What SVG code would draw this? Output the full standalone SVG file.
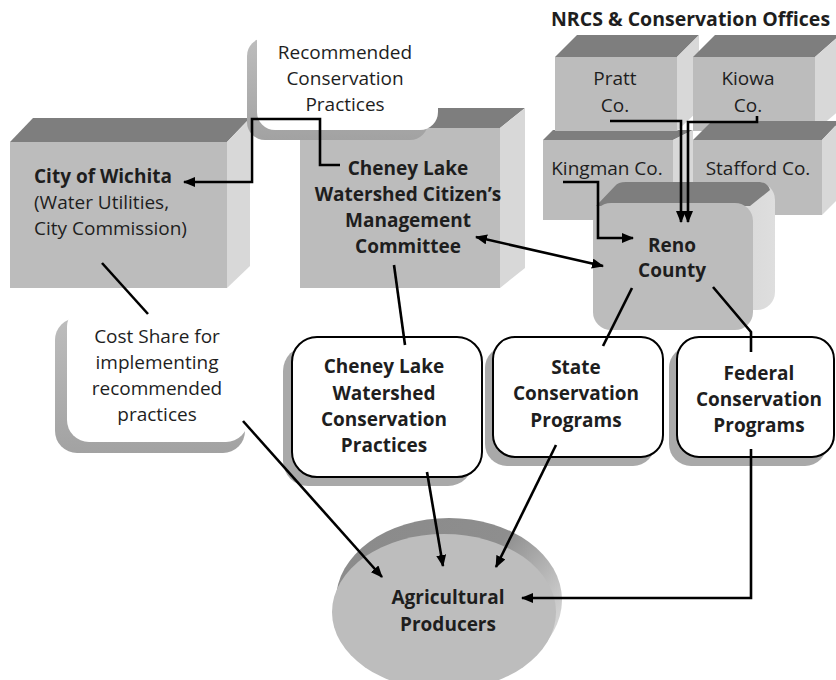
<svg xmlns="http://www.w3.org/2000/svg" width="836" height="680" viewBox="0 0 836 680">
  <style>
    text { font-family: "Open Sans", "Noto Sans", "Liberation Sans", sans-serif; font-size: 19px; fill: #1e1e1e; }
    .b { font-weight: bold; }
    .c { text-anchor: middle; }
    .front { fill: #bcbcbc; }
    .top { fill: #7e7e7e; }
    .side { fill: #d8d8d8; }
    .shadow { fill: #a9a9a9; }
    .card { fill: #ffffff; }
    .prog { fill: #ffffff; stroke: #000; stroke-width: 2; }
    .link { fill: none; stroke: #000; stroke-width: 2.6; }
    .arr { marker-end: url(#arrow); }
    .arr2 { marker-start: url(#arrow); marker-end: url(#arrow); }
  </style>
  <defs>
    <marker id="arrow" viewBox="0 0 12 10" refX="11" refY="5" markerWidth="12" markerHeight="10" markerUnits="userSpaceOnUse" orient="auto-start-reverse">
      <path d="M0,0 L12,5 L0,10 Z" fill="#000"/>
    </marker>
    <linearGradient id="rim" x1="0" y1="0" x2="1" y2="0.6">
      <stop offset="0" stop-color="#8a8a8a"/>
      <stop offset="0.6" stop-color="#8e8e8e"/>
      <stop offset="1" stop-color="#d4d4d4"/>
    </linearGradient>
    <linearGradient id="shade" x1="0" y1="0" x2="0" y2="1">
      <stop offset="0" stop-color="#bdbdbd"/>
      <stop offset="1" stop-color="#a2a2a2"/>
    </linearGradient>
    <linearGradient id="renoSide" x1="0" y1="0" x2="1" y2="0">
      <stop offset="0" stop-color="#c4c4c4"/>
      <stop offset="1" stop-color="#dedede"/>
    </linearGradient>
  </defs>

  <!-- City of Wichita -->
  <g id="city-of-wichita">
    <polygon class="top" points="10,142 33,118 250,118 227,142"/>
    <polygon class="side" points="227,142 250,118 250,266 227,288"/>
    <rect class="front" x="10" y="142" width="217" height="146"/>
    <text x="34" y="183" class="b">City of Wichita</text>
    <text x="34" y="209">(Water Utilities,</text>
    <text x="34" y="235">City Commission)</text>
  </g>

  <!-- Citizen's Management Committee -->
  <g id="management-committee">
    <polygon class="top" points="300,128 325,108 525,108 500,128"/>
    <polygon class="side" points="500,128 525,108 525,268 500,288"/>
    <rect class="front" x="300" y="128" width="200" height="160"/>
    <text x="408" y="175" class="b c">Cheney Lake</text>
    <text x="408" y="201" class="b c">Watershed Citizen’s</text>
    <text x="408" y="227" class="b c">Management</text>
    <text x="408" y="253" class="b c">Committee</text>
  </g>

  <!-- Recommended Conservation Practices -->
  <g id="recommended-practices">
    <rect x="247" y="38" width="181" height="102" rx="18" fill="url(#shade)"/>
    <rect class="card" x="257" y="18" width="181" height="112" rx="18"/>
    <text x="345" y="59" class="c">Recommended</text>
    <text x="345" y="85" class="c">Conservation</text>
    <text x="345" y="111" class="c">Practices</text>
  </g>

  <!-- NRCS & Conservation Offices -->
  <g id="nrcs-offices">
    <text x="551" y="26" class="b" style="font-size:19.5px">NRCS &amp; Conservation Offices</text>
  </g>

  <g id="kingman-co">
    <polygon class="top" points="543,140 553,130 693,130 673,140"/>
    <polygon class="side" points="673,140 693,130 693,210 673,220"/>
    <rect class="front" x="543" y="140" width="130" height="80"/>
    <text x="607" y="175" class="c">Kingman Co.</text>
  </g>

  <g id="pratt-co">
    <polygon class="top" points="555,57 577,35 699,35 677,57"/>
    <polygon class="side" points="677,57 699,35 699,110 677,131"/>
    <rect class="front" x="555" y="57" width="122" height="74"/>
    <text x="615" y="85" class="c">Pratt</text>
    <text x="615" y="112" class="c">Co.</text>
  </g>

  <g id="kiowa-co">
    <polygon class="top" points="693,57 715,35 840,35 815,57"/>
    <polygon class="side" points="815,57 840,35 840,110 815,131"/>
    <rect class="front" x="693" y="57" width="122" height="74"/>
    <text x="748" y="85" class="c">Kiowa</text>
    <text x="748" y="112" class="c">Co.</text>
  </g>

  <g id="stafford-co">
    <polygon class="top" points="693,140 712,121 840,121 822,140"/>
    <polygon class="side" points="822,140 840,121 840,197 822,215"/>
    <rect class="front" x="693" y="140" width="129" height="75"/>
    <text x="758" y="175" class="c">Stafford Co.</text>
  </g>

  <!-- Reno County -->
  <g id="reno-county">
    <rect x="613" y="182" width="162" height="128" rx="18" fill="url(#renoSide)"/>
    <path d="M596,206 L615,186 Q618,182 626,182 L760,182 Q768,183 770,190 L750,206 Z" class="top"/>
    <rect class="front" x="593" y="203" width="160" height="127" rx="18"/>
    <text x="672" y="252" class="b c">Reno</text>
    <text x="672" y="277" class="b c">County</text>
  </g>

  <!-- Cost Share -->
  <g id="cost-share">
    <rect x="55" y="318" width="190" height="135" rx="22" fill="url(#shade)"/>
    <rect class="card" x="67" y="305" width="181" height="137" rx="22"/>
    <text x="157" y="343" class="c">Cost Share for</text>
    <text x="157" y="369" class="c">implementing</text>
    <text x="157" y="395" class="c">recommended</text>
    <text x="157" y="421" class="c">practices</text>
  </g>

  <!-- Conservation practices and programs -->
  <g id="watershed-practices">
    <rect class="shadow" x="283" y="346" width="190" height="140" rx="25"/>
    <rect class="prog" x="292" y="337" width="190" height="140" rx="25"/>
    <text x="384" y="373" class="b c">Cheney Lake</text>
    <text x="384" y="400" class="b c">Watershed</text>
    <text x="384" y="426" class="b c">Conservation</text>
    <text x="384" y="452" class="b c">Practices</text>
  </g>

  <g id="state-programs">
    <rect class="shadow" x="485" y="346" width="170" height="120" rx="22"/>
    <rect class="prog" x="493" y="337" width="170" height="120" rx="22"/>
    <text x="576" y="374" class="b c">State</text>
    <text x="576" y="400" class="b c">Conservation</text>
    <text x="576" y="427" class="b c">Programs</text>
  </g>

  <g id="federal-programs">
    <rect class="shadow" x="669" y="346" width="158" height="120" rx="22"/>
    <rect class="prog" x="677" y="337" width="157" height="120" rx="22"/>
    <text x="759" y="380" class="b c">Federal</text>
    <text x="759" y="406" class="b c">Conservation</text>
    <text x="759" y="432" class="b c">Programs</text>
  </g>

  <!-- Agricultural Producers -->
  <g id="agricultural-producers">
    <ellipse cx="449" cy="600" rx="113" ry="82" fill="url(#rim)"/>
    <ellipse cx="444" cy="612" rx="112" ry="78" fill="#bdbdbd"/>
    <text x="448" y="604" class="b c">Agricultural</text>
    <text x="448" y="631" class="b c">Producers</text>
  </g>

  <!-- Connectors -->
  <g id="connectors">
    <path class="link arr" d="M340,165 H320 V119 H252 V182 H184"/>
    <path class="link" d="M102,263 L148,314"/>
    <path class="link arr" d="M243,421 L382,577"/>
    <path class="link" d="M394,265 L405,345"/>
    <path class="link arr" d="M427,472 L443,566"/>
    <path class="link arr" d="M556,445 L496,567"/>
    <path class="link arr" d="M751,449 V598 H522"/>
    <path class="link" d="M632,288 L603,346"/>
    <path class="link" d="M713,287 L751,332 V352"/>
    <path class="link arr2" d="M476,237 L603,266"/>
    <path class="link arr" d="M563,182 H598 V238 H633"/>
    <path class="link arr" d="M610,121 H681 V222"/>
    <path class="link arr" d="M757,116 V122 H688 V222"/>
  </g>
</svg>
